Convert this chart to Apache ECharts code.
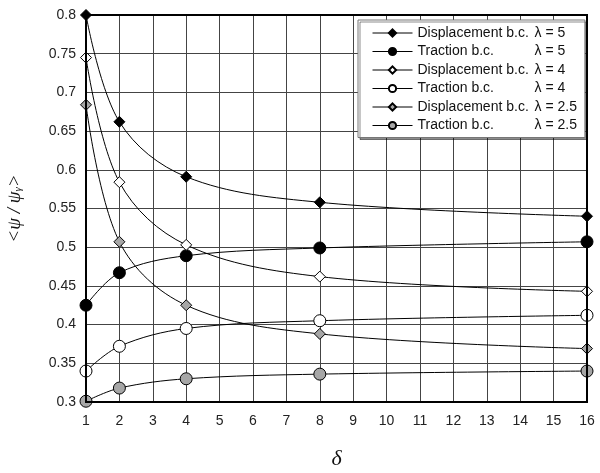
<!DOCTYPE html>
<html>
<head>
<meta charset="utf-8">
<script src="https://cdn.jsdelivr.net/npm/echarts@6/dist/echarts.min.js"></script>
<style>
html,body{margin:0;padding:0;background:#fff;}
#chart{width:600px;height:473px;}
</style>
</head>
<body>
<div id="chart"></div>
<script>
const deltas = [1, 2, 4, 8, 16];
const xTicks = [1,2,3,4,5,6,7,8,9,10,11,12,13,14,15,16];
const yTicks = [0.3,0.35,0.4,0.45,0.5,0.55,0.6,0.65,0.7,0.75,0.8];
const seriesNames = [
  'Displacement b.c. λ = 5',
  'Traction b.c. λ = 5',
  'Displacement b.c. λ = 4',
  'Traction b.c. λ = 4',
  'Displacement b.c. λ = 2.5',
  'Traction b.c. λ = 2.5'
];
const dispL5  = [0.800, 0.662, 0.591, 0.558, 0.540];
const tracL5  = [0.425, 0.467, 0.489, 0.499, 0.507];
const dispL4  = [0.745, 0.584, 0.503, 0.462, 0.443];
const tracL4  = [0.340, 0.372, 0.395, 0.405, 0.412];
const dispL25 = [0.684, 0.507, 0.425, 0.388, 0.369];
const tracL25 = [0.301, 0.318, 0.330, 0.336, 0.340];

const values = [dispL5, tracL5, dispL4, tracL4, dispL25, tracL25];
const symbols = ['diamond','circle','diamond','circle','diamond','circle'];
const fills = ['#000','#000','#fff','#fff','#a6a6a6','#a6a6a6'];
const sizes = [11, 12, 11, 12, 11, 12];

const series = values.map((vals, i) => ({
  name: seriesNames[i],
  type: 'line',
  smooth: 0.35,
  data: deltas.map((d, k) => [d, vals[k]]),
  symbol: symbols[i],
  symbolSize: sizes[i],
  showSymbol: true,
  lineStyle: {color: '#000', width: 1},
  itemStyle: {color: fills[i], borderColor: '#000', borderWidth: 1},
  z: 3
}));

const chart = echarts.init(document.getElementById('chart'), null, {renderer: 'canvas'});
chart.setOption({
  animation: false,
  backgroundColor: '#fff',
  grid: {left: 86, right: 13, top: 15, bottom: 71, outerBoundsMode: 'none', containLabel: false,
    show: true, borderColor: '#000', borderWidth: 2, backgroundColor: 'transparent', z: 4},
  xAxis: {
    type: 'value', min: 1, max: 16, interval: 1,
    name: 'δ', nameLocation: 'middle', nameGap: 46,
    nameTextStyle: {fontFamily: 'Liberation Serif', fontStyle: 'italic', fontSize: 22, color: '#111'},
    axisLine: {show: true, lineStyle: {color: '#000', width: 2}},
    axisTick: {show: false},
    axisLabel: {color: '#222', fontFamily: 'Liberation Sans, Arial', fontSize: 14, margin: 12,
      formatter: v => xTicks.indexOf(v) >= 0 ? String(v) : ''},
    splitLine: {show: true, lineStyle: {color: '#444', width: 1}}
  },
  yAxis: {
    type: 'value', min: 0.3, max: 0.8, interval: 0.05,
    name: '{a|<ψ / ψ}{s|γ}{a|>}', nameLocation: 'middle', nameGap: 62, nameRotate: 90,
    nameTextStyle: {
      rich: {
        a: {fontFamily: 'Liberation Serif', fontStyle: 'italic', fontSize: 19, color: '#111'},
        s: {fontFamily: 'Liberation Serif', fontStyle: 'italic', fontSize: 11, color: '#111', padding: [8, 0, 0, 0]}
      }
    },
    axisLine: {show: true, lineStyle: {color: '#000', width: 2}},
    axisTick: {show: false},
    axisLabel: {color: '#222', fontFamily: 'Liberation Sans, Arial', fontSize: 14, margin: 10,
      formatter: v => {
        const r = Math.round(v * 100) / 100;
        return yTicks.some(t => Math.abs(t - r) < 1e-9) ? String(r) : '';
      }},
    splitLine: {show: true, lineStyle: {color: '#444', width: 1}}
  },
  legend: {
    orient: 'vertical',
    left: 358, top: 20,
    padding: [6, 8, 5, 14],
    itemGap: 4.5,
    itemWidth: 40, itemHeight: 9,
    backgroundColor: '#fff',
    borderColor: '#777', borderWidth: 1,
    shadowColor: 'rgba(0,0,0,0.45)', shadowBlur: 0, shadowOffsetX: 2, shadowOffsetY: 2,
    lineStyle: {width: 1, color: '#000'},
    data: seriesNames,
    formatter: name => {
      const idx = name.indexOf(' λ');
      return '{a|' + name.slice(0, idx) + '}{b|' + name.slice(idx + 1) + '}';
    },
    textStyle: {
      rich: {
        a: {fontFamily: 'Liberation Sans, Arial', fontSize: 14, lineHeight: 16, color: '#111', width: 117},
        b: {fontFamily: 'Liberation Sans, Arial', fontSize: 14, lineHeight: 16, color: '#111'}
      }
    },
    z: 10
  },
  series: series
});
</script>
</body>
</html>
